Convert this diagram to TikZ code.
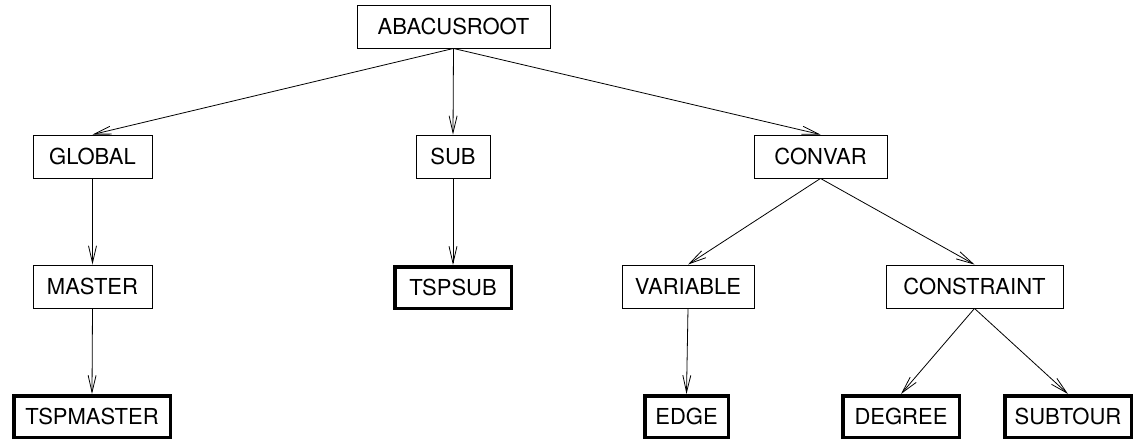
\documentclass[tikz,border=0pt]{standalone}
\usepackage{fontspec}
\setmainfont{TeX Gyre Heros}
\usetikzlibrary{arrows.meta}
\begin{document}
\begin{tikzpicture}[x=1pt,y=-1pt,
  box/.style={draw, line width=0.9pt, rectangle, inner sep=0pt, minimum height=43pt,
    font=\fontsize{22}{26}\selectfont},
  leaf/.style={box, line width=3.5pt, minimum height=41.5pt},
  edgearrow/.style={draw, line width=0.8pt, -{Straight Barb[length=17pt,width=8pt]}}]
\useasboundingbox (0,0) rectangle (1133,439);
\clip (0,0) rectangle (1133,439);
\node[box, minimum width=193pt] (root) at (453.5,26.5) {ABACUSROOT};
\node[box, minimum width=119pt] (global) at (92.5,156.5) {GLOBAL};
\node[box, minimum width=74pt] (sub) at (453,156.5) {SUB};
\node[box, minimum width=133pt] (convar) at (820.5,156.5) {CONVAR};
\node[box, minimum width=119pt] (master) at (92.5,286.5) {MASTER};
\node[leaf, minimum width=116.5pt] (tspsub) at (453,287.5) {TSPSUB};
\node[box, minimum width=132pt] (variable) at (688,286.5) {VARIABLE};
\node[box, minimum width=177pt] (constraint) at (974.5,286.5) {CONSTRAINT};
\node[leaf, minimum width=156.5pt] (tspmaster) at (92,416.5) {TSPMASTER};
\node[leaf, minimum width=83.5pt] (edge) at (686.5,416.5) {EDGE};
\node[leaf, minimum width=116.5pt] (degree) at (901,416.5) {DEGREE};
\node[leaf, minimum width=126.5pt] (subtour) at (1068,416.5) {SUBTOUR};
\draw[edgearrow] (root.south) -- (global.north);
\draw[edgearrow] (root.south) -- (sub.north);
\draw[edgearrow] (root.south) -- (convar.north);
\draw[edgearrow] (global.south) -- (master.north);
\draw[edgearrow] (master.south) -- (tspmaster.north);
\draw[edgearrow] (sub.south) -- (tspsub.north);
\draw[edgearrow] (convar.south) -- (variable.north);
\draw[edgearrow] (convar.south) -- (constraint.north);
\draw[edgearrow] (variable.south) -- (edge.north);
\draw[edgearrow] (constraint.south) -- (degree.north);
\draw[edgearrow] (constraint.south) -- (subtour.north);
\end{tikzpicture}
\end{document}
